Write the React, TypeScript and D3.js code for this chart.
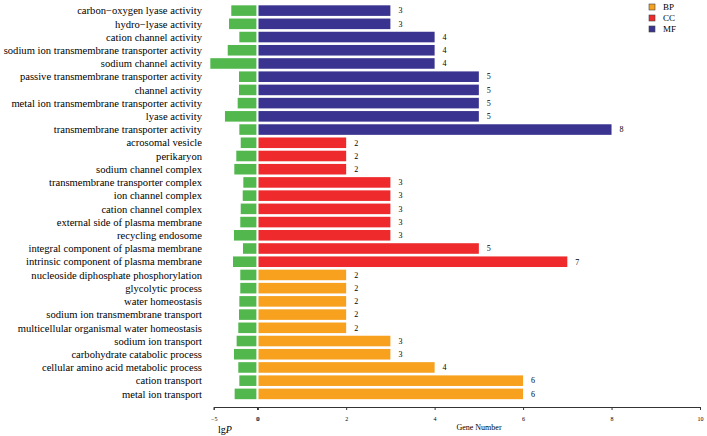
import React, { useEffect, useRef } from 'react';
import * as d3 from 'd3';

const terms = [
  'carbon−oxygen lyase activity',
  'hydro−lyase activity',
  'cation channel activity',
  'sodium ion transmembrane transporter activity',
  'sodium channel activity',
  'passive transmembrane transporter activity',
  'channel activity',
  'metal ion transmembrane transporter activity',
  'lyase activity',
  'transmembrane transporter activity',
  'acrosomal vesicle',
  'perikaryon',
  'sodium channel complex',
  'transmembrane transporter complex',
  'ion channel complex',
  'cation channel complex',
  'external side of plasma membrane',
  'recycling endosome',
  'integral component of plasma membrane',
  'intrinsic component of plasma membrane',
  'nucleoside diphosphate phosphorylation',
  'glycolytic process',
  'water homeostasis',
  'sodium ion transmembrane transport',
  'multicellular organismal water homeostasis',
  'sodium ion transport',
  'carbohydrate catabolic process',
  'cellular amino acid metabolic process',
  'cation transport',
  'metal ion transport',
];

const groups = [
  'MF', 'MF', 'MF', 'MF', 'MF', 'MF', 'MF', 'MF', 'MF', 'MF',
  'CC', 'CC', 'CC', 'CC', 'CC', 'CC', 'CC', 'CC', 'CC', 'CC',
  'BP', 'BP', 'BP', 'BP', 'BP', 'BP', 'BP', 'BP', 'BP', 'BP',
];

const geneCounts = [3, 3, 4, 4, 4, 5, 5, 5, 5, 8, 2, 2, 2, 3, 3, 3, 3, 3, 5, 7, 2, 2, 2, 2, 2, 3, 3, 4, 6, 6];

// lg P values (negative, drawn to the left)
const lgP = [
  -2.97, -3.23, -2.04, -3.38, -5.39, -2.08, -2.08, -2.23, -3.7, -2.04,
  -1.88, -2.39, -2.62, -1.58, -1.65, -1.88, -1.93, -2.66, -1.62, -2.77,
  -1.93, -1.93, -2.04, -2.08, -2.16, -2.35, -2.66, -2.16, -2.04, -2.58,
];

const legendKeys = ['BP', 'CC', 'MF'];
const lgTicks = [-5, 0];
const geneTicks = [0, 2, 4, 6, 8, 10];

const Chart = ({ width = 707, height = 436 }) => {
  const ref = useRef(null);

  useEffect(() => {
    const svg = d3.select(ref.current)
      .attr('width', width)
      .attr('height', height);

    svg.selectAll('*').remove();

    const serif = '"Liberation Serif", "Times New Roman", serif';
    const color = d3.scaleOrdinal<string, string>()
      .domain(legendKeys)
      .range(['#f7a11f', '#ee2a2c', '#3a3490']);

    const y = d3.scaleBand()
      .domain(terms)
      .range([4, 400.5])
      .paddingInner(0.2)
      .paddingOuter(0.1);

    const xP = d3.scaleLinear().domain([-5, 0]).range([213.7, 257]);
    const xG = d3.scaleLinear().domain([0, 10]).range([257.7, 700]);

    const rows = terms.map((t, i) => ({ term: t, group: groups[i], count: geneCounts[i], p: lgP[i] }));

    // green lg P bars
    svg.append('g')
      .selectAll('rect')
      .data(rows)
      .enter().append('rect')
      .attr('x', d => xP(d.p))
      .attr('y', d => y(d.term))
      .attr('width', d => xP(0) - 0.6 - xP(d.p))
      .attr('height', y.bandwidth())
      .attr('fill', '#52b84e');

    // gene number bars
    svg.append('g')
      .selectAll('rect')
      .data(rows)
      .enter().append('rect')
      .attr('x', xG(0) + 0.8)
      .attr('y', d => y(d.term))
      .attr('width', d => xG(d.count) - xG(0) - 0.8)
      .attr('height', y.bandwidth())
      .attr('fill', d => color(d.group));

    // value labels
    svg.append('g')
      .selectAll('text')
      .data(rows)
      .enter().append('text')
      .attr('x', d => xG(d.count) + 8)
      .attr('y', d => y(d.term) + y.bandwidth() / 2)
      .attr('dy', '0.35em')
      .style('font-family', serif)
      .style('font-size', '8px')
      .attr('fill', '#000')
      .text(d => d.count);

    // category labels
    svg.append('g')
      .selectAll('text')
      .data(rows)
      .enter().append('text')
      .attr('x', 202)
      .attr('y', d => y(d.term) + y.bandwidth() / 2)
      .attr('dy', '0.35em')
      .attr('text-anchor', 'end')
      .style('font-family', serif)
      .style('font-size', '10.6px')
      .attr('fill', '#000')
      .text(d => d.term);

    // axes
    const axisY = 407;
    const styleAxis = (g) => {
      g.select('.domain').attr('stroke', '#333');
      g.selectAll('.tick line').attr('stroke', '#333');
      g.selectAll('.tick text')
        .style('font-family', serif)
        .style('font-size', '6px')
        .attr('fill', '#000')
        .attr('y', 10);
    };

    svg.append('g')
      .attr('transform', `translate(0,${axisY})`)
      .call(d3.axisBottom(xP).tickValues(lgTicks).tickSize(3).tickSizeOuter(3).tickFormat(d3.format('d')))
      .call(styleAxis);

    svg.append('g')
      .attr('transform', `translate(0,${axisY})`)
      .call(d3.axisBottom(xG).tickValues(geneTicks).tickSize(3).tickSizeOuter(3).tickFormat(d3.format('d')))
      .call(styleAxis);

    svg.append('text')
      .attr('x', 479)
      .attr('y', 430)
      .attr('text-anchor', 'middle')
      .style('font-family', serif)
      .style('font-size', '8px')
      .attr('fill', '#000')
      .text('Gene Number');

    const lg = svg.append('text')
      .attr('x', 218)
      .attr('y', 433)
      .style('font-family', serif)
      .style('font-size', '10px')
      .attr('fill', '#000');
    lg.append('tspan').text('lg');
    lg.append('tspan').style('font-style', 'italic').text('P');

    // legend
    const legend = svg.append('g')
      .attr('transform', 'translate(649, 4)');

    legendKeys.forEach((key, i) => {
      const row = legend.append('g')
        .attr('transform', `translate(0, ${i * 11})`);

      row.append('rect')
        .attr('width', 6)
        .attr('height', 6)
        .attr('fill', color(key))
        .attr('stroke', '#444')
        .attr('stroke-width', 0.6);

      row.append('text')
        .attr('x', 14)
        .attr('y', 3)
        .attr('dy', '0.35em')
        .style('font-family', serif)
        .style('font-size', '9px')
        .attr('fill', '#000')
        .text(key);
    });
  }, [width, height]);

  return <svg ref={ref} style={{ position: 'absolute', left: 0, top: 0 }}></svg>;
};

export default function App() {
  return <Chart />;
}
